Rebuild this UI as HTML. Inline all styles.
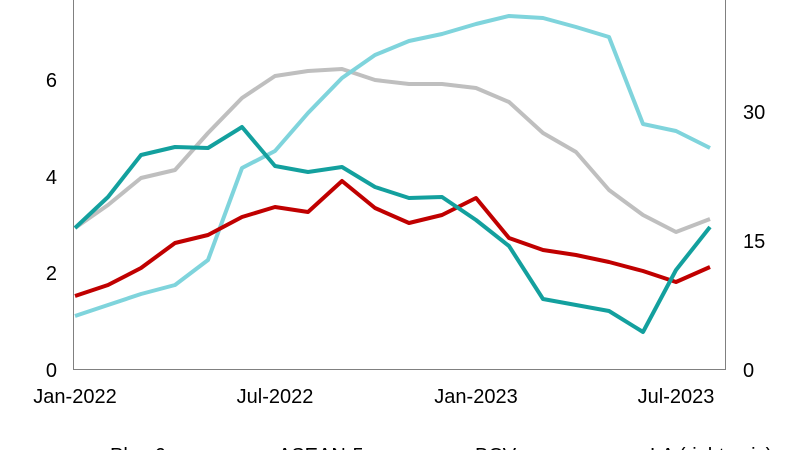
<!DOCTYPE html>
<html><head><meta charset="utf-8"><style>
html,body{margin:0;padding:0;background:#fff;width:800px;height:450px;overflow:hidden}
svg{display:block}
text{font-family:"Liberation Sans",Arial,sans-serif;font-size:20px;fill:#000}
</style></head><body>
<svg width="800" height="450" viewBox="0 0 800 450">
<line x1="73.5" y1="0" x2="73.5" y2="369" stroke="#808080" stroke-width="1"/>
<line x1="725.5" y1="0" x2="725.5" y2="369" stroke="#808080" stroke-width="1"/>
<line x1="73" y1="369.5" x2="726" y2="369.5" stroke="#808080" stroke-width="1"/>
<g text-anchor="end">
<text x="57" y="377">0</text><text x="57" y="280">2</text><text x="57" y="184">4</text><text x="57" y="87">6</text>
</g>
<g text-anchor="start">
<text x="743" y="377">0</text><text x="743" y="248">15</text><text x="743" y="119">30</text>
</g>
<g text-anchor="middle">
<text x="75" y="403">Jan-2022</text><text x="275" y="403">Jul-2022</text><text x="476" y="403">Jan-2023</text><text x="676" y="403">Jul-2023</text>
</g>
<g fill="none" stroke-width="4" stroke-linejoin="round">
<polyline stroke="#BFBFBF" points="75,228 108,205 141,178 175,170 208,133 242,98 275,76 308,71 342,69 375,80 409,84 442,84 476,88 509,102 543,133 576,152 609,190 643,215 676,232 710,219"/>
<polyline stroke="#7FD4DC" points="75,316 108,305 141,294 175,285 208,260 242,168 275,151 308,113 342,78 375,55 409,41 442,34 476,24 509,16 543,18 576,27 609,37 643,124 676,131 710,148"/>
<polyline stroke="#C00000" points="75,296 108,285 141,268 175,243 208,235 242,217 275,207 308,212 342,181 375,208 409,223 442,215 476,198 509,238 543,250 576,255 609,262 643,271 676,282 710,267"/>
<polyline stroke="#13A09E" points="75,228 108,197 141,155 175,147 208,148 242,127 275,166 308,172 342,167 375,187 409,198 442,197 476,220 509,246 543,299 576,305 609,311 643,332 676,270 710,227"/>
</g>
<g>
<text x="110" y="462">Plus 6</text>
<text x="278" y="462">ASEAN-5</text>
<text x="475" y="462">BCV</text>
<text x="650" y="462">LA (right axis)</text>
</g>
</svg>
</body></html>
